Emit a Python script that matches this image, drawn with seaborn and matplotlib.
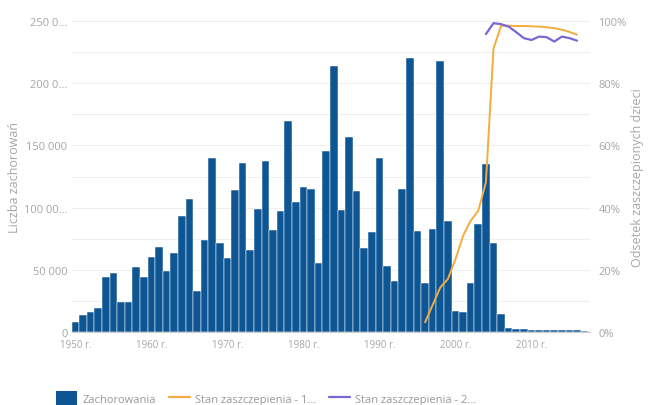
import numpy as np
import matplotlib
matplotlib.use("Agg")
import matplotlib.pyplot as plt
import seaborn as sns
from matplotlib.patches import Patch
from matplotlib.lines import Line2D

# dane
lata = list(range(1950, 2018))
zachorowania = [
    8000, 13900, 16000, 19300, 44100, 47800, 24000, 24000, 52600, 44100,
    60100, 68700, 49400, 63900, 93300, 107000, 33400, 74300, 139600, 71600,
    59400, 114200, 135600, 66300, 98900, 137200, 82300, 97300, 169800, 104300,
    116300, 115000, 55600, 145700, 213900, 98100, 156500, 113100, 67400, 80700,
    139600, 53400, 41400, 115000, 219900, 81500, 39300, 82900, 217500, 89500,
    16800, 16000, 39300, 86900, 135000, 71400, 14700, 3600, 2900, 2500,
    2000, 2000, 2100, 1900, 1900, 1700, 1500, 1300,
]

lata_dawka1 = list(range(1996, 2017))
dawka1 = [3.2, 8.8, 14.4, 17.1, 23.5, 31.0, 35.8, 39.0, 48.1, 91.0,
          98.4, 98.4, 98.3, 98.3, 98.2, 98.1, 97.9, 97.6, 97.1, 96.4, 95.5]

lata_dawka2 = list(range(2004, 2017))
dawka2 = [95.7, 99.2, 98.9, 98.1, 96.3, 94.4, 93.8, 94.9, 94.7, 93.3,
          94.9, 94.4, 93.6]

lewe_ticki = [0, 50000, 100000, 150000, 200000, 250000]
lewe_etykiety = ["0", "50 000", "100 00...", "150 000", "200 0...", "250 0..."]
prawe_ticki = [0, 20, 40, 60, 80, 100]
x_ticki = [1950, 1960, 1970, 1980, 1990, 2000, 2010]

kolor_slupki = "#0e5594"
kolor_d1 = "#f5ac3d"
kolor_d2 = "#7a66d4"
kolor_tekst = "#a6a6a6"

sns.set_style("white")
plt.rcParams['font.family'] = ['Open Sans', 'DejaVu Sans']

fig = plt.figure(figsize=(6.48, 4.06), dpi=100)
ax = fig.add_axes([71.7/648, (406-333.3)/406, (590-71.7)/648, (333.3-21.7)/406])

sns.barplot(x=lata, y=zachorowania, native_scale=True, width=1,
            color=kolor_slupki, saturation=1, edgecolor='white',
            linewidth=0.35, ax=ax)

ax.set_xlim(1949.5, 2017.7)
ax.set_ylim(0, 250000)
ax.set_axisbelow(True)
ax.set_yticks(lewe_ticki)
ax.set_yticks([25000, 75000, 125000, 175000, 225000], minor=True)
ax.grid(axis='y', which='both', color='#efefef', linewidth=0.8)
ax.set_yticklabels(lewe_etykiety)
ax.set_xticks(x_ticki)
ax.set_xticklabels([f"{r} r." for r in x_ticki])
ax.tick_params(axis='x', length=0, labelsize=7, colors=kolor_tekst, pad=5)
ax.tick_params(axis='y', which='both', length=0, labelsize=8, colors=kolor_tekst, pad=3)
ax.set_xlabel("")
ax.set_ylabel("Liczba zachorowań", fontsize=9, color=kolor_tekst, labelpad=2)
for s in ['top', 'left', 'right']:
    ax.spines[s].set_visible(False)
ax.spines['bottom'].set_color('#cccccc')
ax.spines['bottom'].set_linewidth(0.8)

ax2 = ax.twinx()
sns.lineplot(x=lata_dawka1, y=dawka1, color=kolor_d1, linewidth=1.4, ax=ax2, legend=False)
sns.lineplot(x=lata_dawka2, y=dawka2, color=kolor_d2, linewidth=1.6, ax=ax2, legend=False)
ax2.set_ylim(0, 100)
ax2.set_yticks(prawe_ticki)
ax2.set_yticklabels([f"{v}%" for v in prawe_ticki])
ax2.tick_params(axis='y', length=0, labelsize=8, colors=kolor_tekst, pad=6)
ax2.set_ylabel("Odsetek zaszczepionych dzieci", fontsize=9, color=kolor_tekst, labelpad=3)
for s in ax2.spines.values():
    s.set_visible(False)

uchwyty = [
    Patch(facecolor=kolor_slupki, edgecolor='none'),
    Line2D([0], [0], color=kolor_d1, linewidth=1.6),
    Line2D([0], [0], color=kolor_d2, linewidth=1.6),
]
etykiety = ["Zachorowania", "Stan zaszczepienia - 1...", "Stan zaszczepienia - 2..."]
leg = fig.legend(uchwyty, etykiety, loc='center', bbox_to_anchor=(0.411, 0.017),
                 ncol=3, frameon=False, fontsize=8, handlelength=1.9,
                 handleheight=1.45, columnspacing=1.15, handletextpad=0.45)
for t in leg.get_texts():
    t.set_color('#999999')

fig.savefig("out.png", dpi=100)
